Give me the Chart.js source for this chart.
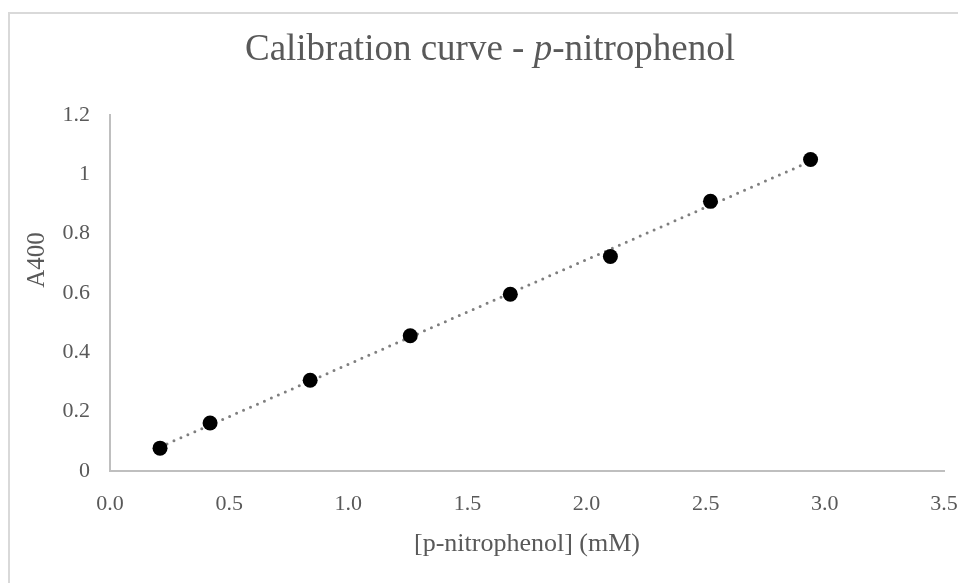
<!DOCTYPE html>
<html>
<head>
<meta charset="utf-8">
<script src="https://cdn.jsdelivr.net/npm/chart.js@4.4.0/dist/chart.umd.min.js"></script>
<style>
  html, body { margin: 0; padding: 0; background: #fff; overflow: hidden; }
  #wrap { position: relative; width: 958px; height: 583px; }
  #frame { position: absolute; left: 8px; top: 12px; width: 990px; height: 620px;
           border: 2px solid #d9d9d9; box-sizing: border-box; pointer-events: none; }
</style>
</head>
<body>
<div id="wrap">
  <canvas id="chart" width="958" height="583"></canvas>
  <div id="frame"></div>
</div>
<script>
// data
var concentration = [0.21, 0.42, 0.84, 1.26, 1.68, 2.10, 2.52, 2.94];
var absorbance = [0.077, 0.162, 0.306, 0.456, 0.596, 0.723, 0.909, 1.050];
// linear trendline ends
var trendX = [0.21, 2.94];
var trendY = [0.081, 1.044];
var xTicks = [0, 0.5, 1, 1.5, 2, 2.5, 3, 3.5];
var yTicks = [0, 0.2, 0.4, 0.6, 0.8, 1, 1.2];

var titleParts = [
  { text: 'Calibration curve - ', italic: false },
  { text: 'p', italic: true },
  { text: '-nitrophenol', italic: false }
];
var yTitle = 'A400';
var xTitle = '[p-nitrophenol] (mM)';

var serif = '"Liberation Serif", "Times New Roman", serif';
var grey = '#595959';

var points = concentration.map(function (x, i) { return { x: x, y: absorbance[i] }; });
var trend = trendX.map(function (x, i) { return { x: x, y: trendY[i] }; });

// title with italic p, and y axis title placed like Excel does
var textPlugin = {
  id: 'texts',
  afterDraw: function (chart) {
    var ctx = chart.ctx;
    ctx.save();
    ctx.fillStyle = grey;
    ctx.textBaseline = 'alphabetic';
    var size = 37;
    var total = 0;
    titleParts.forEach(function (p) {
      ctx.font = (p.italic ? 'italic ' : '') + size + 'px ' + serif;
      p.w = ctx.measureText(p.text).width;
      total += p.w;
    });
    var x = 490 - total / 2;
    titleParts.forEach(function (p) {
      ctx.font = (p.italic ? 'italic ' : '') + size + 'px ' + serif;
      ctx.textAlign = 'left';
      ctx.fillText(p.text, x, 59.5);
      x += p.w;
    });

    ctx.translate(37, 260);
    ctx.rotate(-Math.PI / 2);
    ctx.font = '25px ' + serif;
    ctx.textAlign = 'center';
    ctx.textBaseline = 'middle';
    ctx.fillText(yTitle, 0, 0);
    ctx.restore();
  }
};

var ctx = document.getElementById('chart').getContext('2d');
var myChart = new Chart(ctx, {
  type: 'scatter',
  data: {
    datasets: [{
      label: 'Linear trend',
      data: trend,
      showLine: true,
      borderColor: '#7f7f7f',
      borderWidth: 3,
      borderDash: [0, 7.6],
      borderCapStyle: 'round',
      pointRadius: 0,
      fill: false,
      order: 2
    }, {
      label: 'A400',
      data: points,
      backgroundColor: '#000000',
      borderWidth: 0,
      pointRadius: 7.5,
      pointHoverRadius: 7.5,
      order: 1
    }]
  },
  options: {
    responsive: false,
    animation: false,
    events: [],
    layout: { padding: { top: 115, right: 14, bottom: 0, left: 0 } },
    plugins: {
      legend: { display: false },
      title: { display: false },
      tooltip: { enabled: false }
    },
    scales: {
      x: {
        type: 'linear',
        min: 0,
        max: 3.5,
        afterBuildTicks: function (scale) {
          scale.ticks = xTicks.map(function (v) { return { value: v }; });
        },
        afterFit: function (scale) {
          scale.height = 112;
          scale.paddingLeft = 0;
          scale.paddingRight = 0;
        },
        grid: { display: false, drawTicks: false },
        border: { display: true, color: '#bfbfbf', width: 2 },
        ticks: {
          padding: 20,
          color: grey,
          font: { family: serif, size: 22 },
          callback: function (v) { return Number(v).toFixed(1); }
        },
        title: {
          display: true,
          text: xTitle,
          color: grey,
          font: { family: serif, size: 26 },
          padding: { top: 0, bottom: 23 }
        }
      },
      y: {
        type: 'linear',
        min: 0,
        max: 1.2,
        afterBuildTicks: function (scale) {
          scale.ticks = yTicks.map(function (v) { return { value: v }; });
        },
        afterFit: function (scale) {
          scale.width = 110;
          scale.paddingTop = 0;
          scale.paddingBottom = 0;
        },
        grid: { display: false, drawTicks: false },
        border: { display: true, color: '#bfbfbf', width: 2 },
        ticks: {
          padding: 20,
          color: grey,
          font: { family: serif, size: 22 },
          callback: function (v) { return String(Math.round(v * 10) / 10); }
        }
      }
    }
  },
  plugins: [textPlugin]
});
</script>
</body>
</html>
